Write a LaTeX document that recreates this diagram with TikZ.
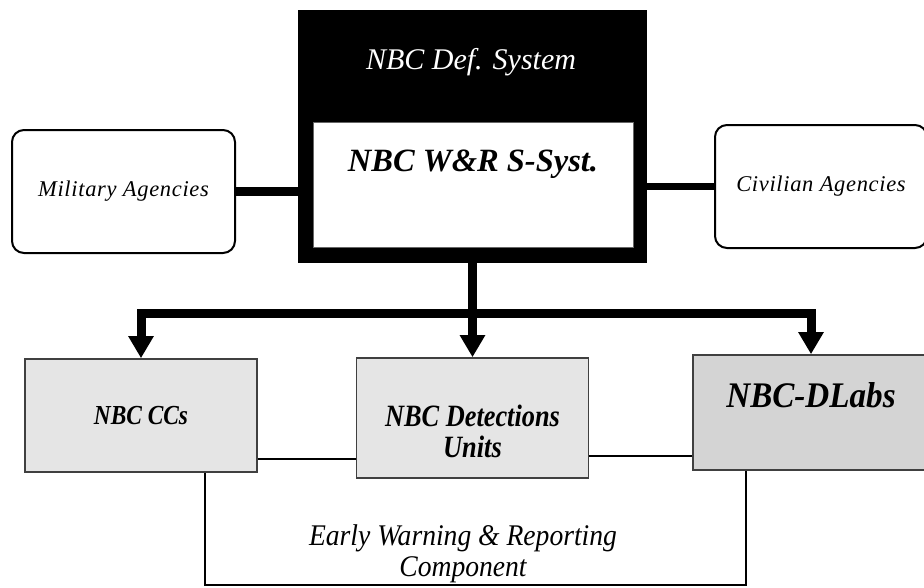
\documentclass[tikz,border=0pt]{standalone}
\usepackage{fontspec}
\setmainfont{Liberation Serif}
\newfontfamily\narrowfont{Liberation Serif}[FakeStretch=0.85]
\newfontfamily\ewrfont{Liberation Serif}[FakeStretch=0.92]
\newfontfamily\spacedfont{Liberation Serif}[LetterSpace=3]
\usetikzlibrary{arrows.meta}
\usetikzlibrary{calc}
\usetikzlibrary{positioning}

\begin{document}
\begin{tikzpicture}[x=1pt,y=-1pt,inner sep=0pt,line join=miter,>={Triangle[length=22pt,width=24pt]}]
 				 \tikzstyle{defbox}=[fill=black, minimum width=349pt, minimum height=253pt]
 				 \tikzstyle{wrbox}=[fill=white, draw=black!60, line width=0.6pt, minimum width=320pt, minimum height=125pt]
 				 \tikzstyle{agency}=[draw=black, line width=2pt, rounded corners=12pt, fill=white, minimum height=123pt, font=\spacedfont\itshape\fontsize{22.5}{27}\selectfont]
 				 \tikzstyle{unit}=[draw=black!75, line width=1.6pt, fill=black!10]
 				 \tikzstyle{bus}=[line width=9pt, black]
 				 \tikzstyle{link}=[line width=2.6pt, black]
 				 \path[use as bounding box, clip] (0,0) rectangle (924,587);
 					 \node[defbox]          (defsys) at (472.5,136.5) {};
 					 \node[wrbox]           (wrs) at (473,184.5) {};
 					 \node[text=white, font=\itshape\fontsize{30}{35}\selectfont] (deftitle) at (471,62) {NBC Def. System};
 					 \node[font=\bfseries\itshape\fontsize{32.5}{38}\selectfont] (wrtitle) at (473,164) {NBC W\&R S-Syst.};
 					 \node[agency, minimum width=223pt] (mil) at (123.5,191.5) {Military Agencies};
 					 \node[agency, minimum width=212pt] (civ) at (821,186.5) {Civilian Agencies};
 					 \node[unit, minimum width=232pt, minimum height=113pt, font=\narrowfont\bfseries\itshape\fontsize{27.5}{31}\selectfont] (ccs) at (141,415.5) {NBC CCs};
 					 \node[unit, minimum width=232pt, minimum height=120pt, font=\narrowfont\bfseries\itshape\fontsize{31}{31}\selectfont] (det) at (472.5,418) {\smash{\raisebox{-8pt}{\begin{tabular}[t]{@{}c@{}}NBC Detections\\Units\end{tabular}}}};
 					 \node[unit, minimum width=236pt, minimum height=115pt, fill=black!17, font=\ewrfont\bfseries\itshape\fontsize{36}{40}\selectfont] (dlabs) at (811,412.5) {\smash{\raisebox{5pt}{NBC-DLabs}}};
 					 \node[font=\ewrfont\itshape\fontsize{30}{31}\selectfont, align=center] (ewr) at (463,554) {Early Warning \& Reporting\\Component};
 					 \coordinate (hub) at (472.5,313);
 					 \coordinate (ewrbase) at (473,585);
				\draw[bus] (mil.east) -- (mil.east -| defsys.west);
				\draw[bus, line width=7pt] (civ.west) -- (civ.west -| defsys.east);
				\draw[bus] (defsys.south) -- (hub);
				\draw[bus,->] (hub) -| (ccs.north);
				\draw[bus,->] (hub) -- (det.north);
				\draw[bus,->] (hub) -| (dlabs.north);
				\draw[link] ([yshift=14pt]ccs.south east) -- ([yshift=14pt]ccs.south east -| det.west);
				\draw[link] ([yshift=15pt]dlabs.south west) -- ([yshift=15pt]dlabs.south west -| det.east);
				\draw[link] ([xshift=64pt]ccs.south) |- (ewrbase) -| ([xshift=-65pt]dlabs.south);
\end{tikzpicture}
\end{document}
